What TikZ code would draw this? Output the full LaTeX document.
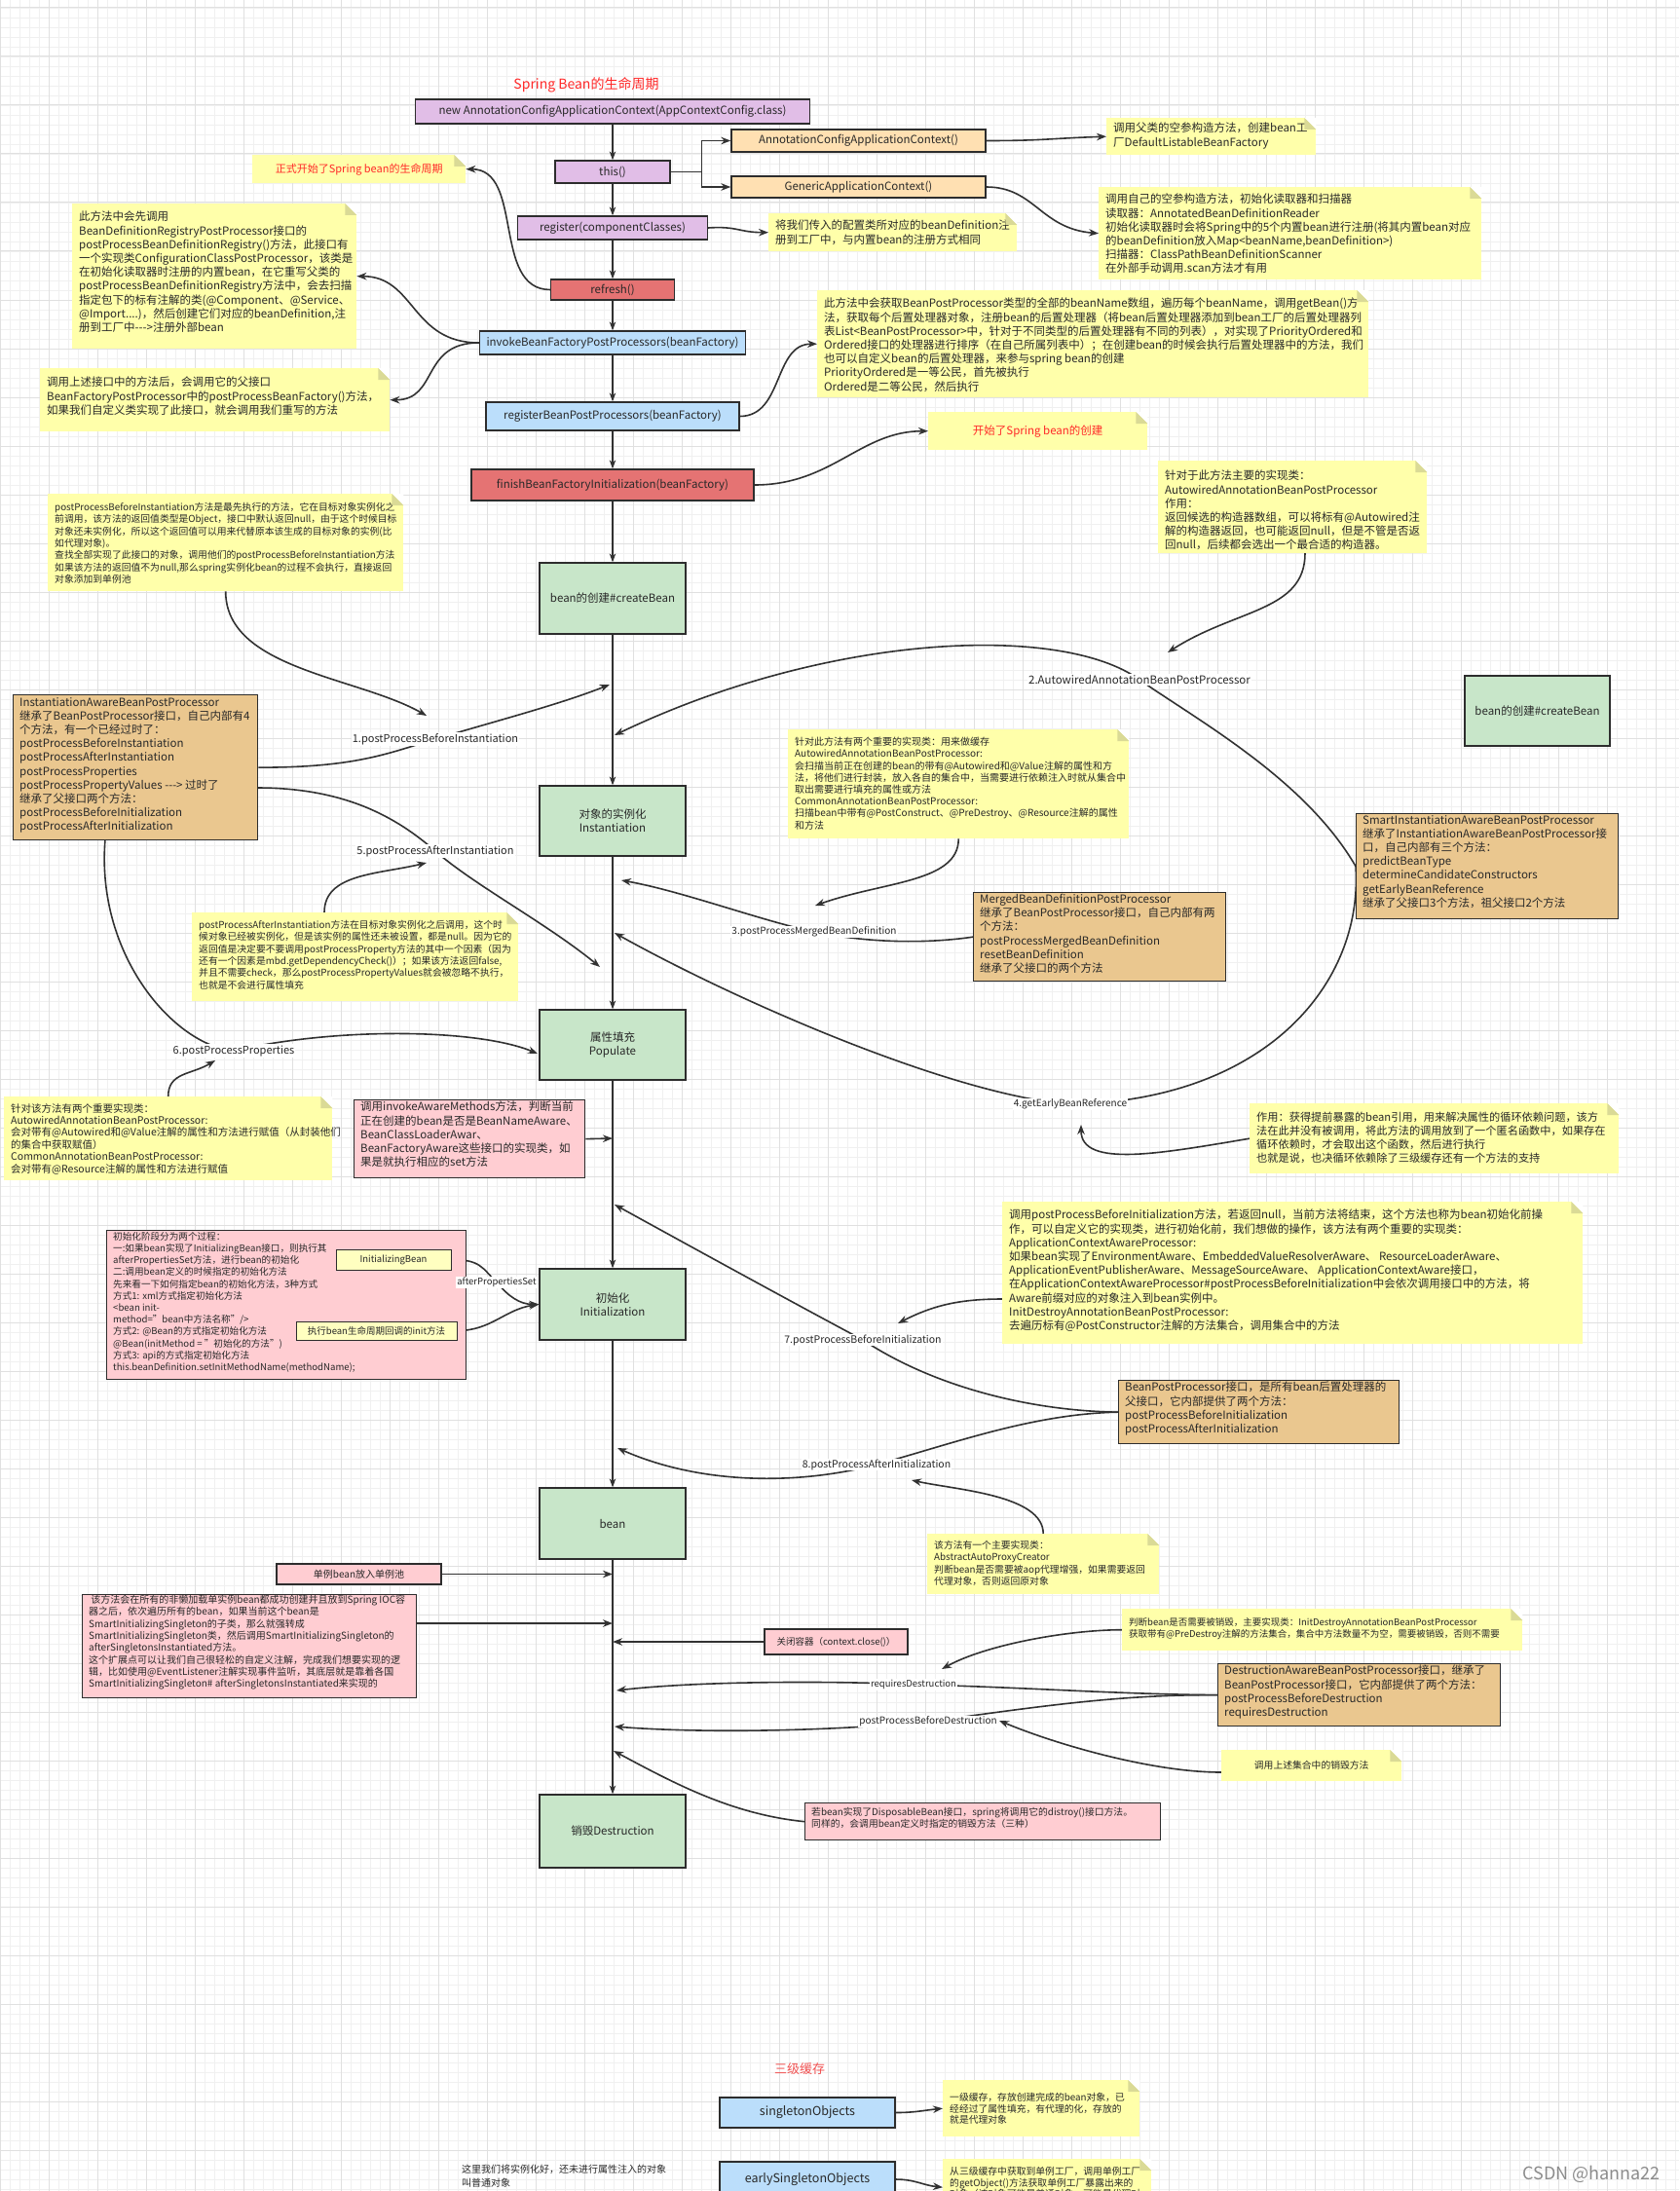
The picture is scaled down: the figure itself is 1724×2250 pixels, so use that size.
\documentclass[tikz,border=0pt]{standalone}
\usepackage{fontspec}
\setmainfont{Noto Sans CJK SC}
\usetikzlibrary{arrows.meta}
\pgfdeclarelayer{gridlayer}
\pgfdeclarelayer{linelayer}
\pgfsetlayers{gridlayer,linelayer,main}
\definecolor{txt}{RGB}{40,40,40}
\definecolor{bline}{RGB}{45,45,45}
\definecolor{cpurple}{RGB}{225,190,231}
\definecolor{cpeach}{RGB}{255,224,178}
\definecolor{cred}{RGB}{229,115,115}
\definecolor{cblue}{RGB}{187,222,251}
\definecolor{cgreen}{RGB}{200,230,201}
\definecolor{ctan}{RGB}{234,199,143}
\definecolor{cpink}{RGB}{255,205,210}
\definecolor{csy}{RGB}{255,255,192}
\definecolor{cnote}{RGB}{255,255,170}
\definecolor{cfold}{RGB}{218,218,150}
\definecolor{cgrid}{RGB}{240,240,240}
\definecolor{cgridm}{RGB}{224,224,224}
\definecolor{ctitle}{RGB}{255,40,40}
\definecolor{csanji}{RGB}{240,80,80}
\definecolor{cwm}{RGB}{140,140,140}
\definecolor{carrow}{RGB}{50,50,50}
\newcommand\mytbox[9]{%
  \node[#2, minimum width={#5-#3}, minimum height={#6-#4}, anchor=north west] (#1) at (#3,#4) {};
  \node[anchor=north west, inner sep=0pt, align=left, text=txt, #8] (#1t) at ({#3+7},{#4+#7}) {#9};}
\newcommand\myfold[1]{%
  \fill[white] (#1.north east) -- ++(-12,0) -- ++(12,12) -- cycle;
  \fill[cfold] (#1.north east) ++(-12,0) -- ++(0,12) -- ++(12,0) -- cycle;}
\tikzset{
  bx/.style={draw=bline, line width=1.3pt, inner sep=2pt, text=txt, align=center},
  bpurple/.style={bx, fill=cpurple},
  bpeach/.style={bx, fill=cpeach},
  bred/.style={bx, fill=cred},
  bblue/.style={bx, fill=cblue},
  bgreen/.style={bx, fill=cgreen},
  btan/.style={bx, fill=ctan},
  bpink/.style={bx, fill=cpink},
  bsy/.style={bx, fill=csy, line width=1pt},
  bnote/.style={fill=cnote, inner sep=0pt},
  fa/.style={font=\fontsize{11.5}{14.2}\selectfont},
  fb/.style={font=\fontsize{9.8}{12.3}\selectfont},
  fc/.style={font=\fontsize{10.5}{12.4}\selectfont},
  fd/.style={font=\fontsize{10}{12.2}\selectfont},
  marr/.style={draw=carrow, line width=1.1pt, -{Stealth[length=9pt,width=6.5pt]}},
  carr/.style={draw=carrow, line width=1.6pt, -{Stealth[length=10pt,width=7.5pt]}},
  lab/.style={fill=white, inner sep=1pt, text=txt},
}
\begin{document}
\begin{tikzpicture}[x=1pt,y=-1pt]
\useasboundingbox (0,0) rectangle (1724,2250);
\begin{pgfonlayer}{gridlayer}
\fill[white] (0,0) rectangle (1724,2250);
\foreach \gx in {0,10,...,1720} \draw[cgrid, line width=0.6pt] (\gx,0) -- (\gx,2250);
\foreach \gy in {8,18,...,2248} \draw[cgrid, line width=0.6pt] (0,\gy) -- (1724,\gy);
\foreach \gx in {0,50,...,1700} \draw[cgridm, line width=1pt] (\gx,0) -- (\gx,2250);
\foreach \gy in {8,58,...,2208} \draw[cgridm, line width=1pt] (0,\gy) -- (1724,\gy);
\end{pgfonlayer}

% ---------- title ----------
\node[font=\fontsize{14}{16}\selectfont, text=ctitle] (title) at (602,87) {Spring Bean的生命周期};

% ---------- main column ----------
\node[bpurple, fa, minimum width=405, minimum height=25] (newctx) at (629,114.5) {new AnnotationConfigApplicationContext(AppContextConfig.class)};
\node[bpurple, fa, minimum width=118, minimum height=23] (this) at (629,176.5) {this()};
\node[bpeach, fa, minimum width=261, minimum height=23] (acac) at (881.5,144.5) {AnnotationConfigApplicationContext()};
\node[bpeach, fa, minimum width=261, minimum height=22] (gac) at (881.5,192) {GenericApplicationContext()};
\node[bpurple, fa, minimum width=195, minimum height=24] (register) at (629,234) {register(componentClasses)};
\node[bred, fa, minimum width=127, minimum height=21] (refresh) at (629,297.5) {refresh()};
\node[bblue, fa, minimum width=273, minimum height=24] (invoke) at (629,352) {invokeBeanFactoryPostProcessors(beanFactory)};
\node[bblue, fa, minimum width=260, minimum height=29] (regbpp) at (629,427.5) {registerBeanPostProcessors(beanFactory)};
\node[bred, fa, minimum width=290, minimum height=32] (finish) at (629,498) {finishBeanFactoryInitialization(beanFactory)};
\node[bgreen, fa, minimum width=150, minimum height=73] (create) at (629,614.5) {bean的创建\#createBean};
\node[bgreen, fa, minimum width=150, minimum height=72] (inst) at (629,843) {对象的实例化\\Instantiation};
\node[bgreen, fa, minimum width=150, minimum height=72] (populate) at (629,1073) {属性填充\\Populate};
\node[bgreen, fa, minimum width=150, minimum height=73] (init) at (629,1339.5) {初始化\\Initialization};
\node[bgreen, fa, minimum width=150, minimum height=73] (bean) at (629,1564.5) {bean};
\node[bgreen, fa, minimum width=150, minimum height=75] (destroy) at (629,1880.5) {销毁Destruction};
\node[bgreen, fa, minimum width=149, minimum height=72] (create2) at (1578.5,730) {bean的创建\#createBean};

% ---------- notes top ----------
\node[bnote, minimum width=219, minimum height=29, anchor=north west, font=\fontsize{11}{13}\selectfont, text=ctitle] (n1) at (259,159) {正式开始了Spring bean的生命周期};
\myfold{n1}
\mytbox{n2}{bnote}{1136}{121}{1351}{159}{5}{fa}{调用父类的空参构造方法，创建bean工\\厂DefaultListableBeanFactory}
\myfold{n2}
\mytbox{n3}{bnote}{1128}{192}{1521}{287}{7}{fa}{调用自己的空参构造方法，初始化读取器和扫描器\\读取器：AnnotatedBeanDefinitionReader\\初始化读取器时会将Spring中的5个内置bean进行注册(将其内置bean对应\\的beanDefinition放入Map<beanName,beanDefinition>)\\扫描器：ClassPathBeanDefinitionScanner\\在外部手动调用.scan方法才有用}
\myfold{n3}
\mytbox{n4}{bnote}{789}{219}{1044}{258}{7}{fa}{将我们传入的配置类所对应的beanDefinition注\\册到工厂中，与内置bean的注册方式相同}
\myfold{n4}
\mytbox{n5}{bnote}{74}{209}{366}{358}{8}{fa}{此方法中会先调用\\BeanDefinitionRegistryPostProcessor接口的\\postProcessBeanDefinitionRegistry()方法，此接口有\\一个实现类ConfigurationClassPostProcessor，该类是\\在初始化读取器时注册的内置bean，在它重写父类的\\postProcessBeanDefinitionRegistry方法中，会去扫描\\指定包下的标有注解的类(@Component、@Service、\\@Import....)，然后创建它们对应的beanDefinition,注\\册到工厂中\mbox{-}\mbox{-}\mbox{-}>注册外部bean}
\myfold{n5}
\mytbox{n6}{bnote}{41}{378}{400}{443}{9}{fa}{调用上述接口中的方法后，会调用它的父接口\\BeanFactoryPostProcessor中的postProcessBeanFactory()方法，\\如果我们自定义类实现了此接口，就会调用我们重写的方法}
\myfold{n6}
\mytbox{n7}{bnote}{839}{298}{1405}{408}{8}{fa}{此方法中会获取BeanPostProcessor类型的全部的beanName数组，遍历每个beanName，调用getBean()方\\法，获取每个后置处理器对象，注册bean的后置处理器（将bean后置处理器添加到bean工厂的后置处理器列\\表List<BeanPostProcessor>中，针对于不同类型的后置处理器有不同的列表），对实现了PriorityOrdered和\\Ordered接口的处理器进行排序（在自己所属列表中）；在创建bean的时候会执行后置处理器中的方法，我们\\也可以自定义bean的后置处理器，来参与spring bean的创建\\PriorityOrdered是一等公民，首先被执行\\Ordered是二等公民，然后执行}
\myfold{n7}
\node[bnote, minimum width=225, minimum height=39, anchor=north west, font=\fontsize{11.5}{13}\selectfont, text=ctitle] (n8) at (953,423) {开始了Spring bean的创建};
\myfold{n8}

% ---------- notes middle ----------
\mytbox{n9}{bnote}{49}{507}{414}{607}{9}{fb}{postProcessBeforeInstantiation方法是最先执行的方法，它在目标对象实例化之\\前调用，该方法的返回值类型是Object，接口中默认返回null，由于这个时候目标\\对象还未实例化，所以这个返回值可以用来代替原本该生成的目标对象的实例(比\\如代理对象)。\\查找全部实现了此接口的对象，调用他们的postProcessBeforeInstantiation方法\\如果该方法的返回值不为null,那么spring实例化bean的过程不会执行，直接返回\\对象添加到单例池}
\myfold{n9}
\mytbox{n10}{bnote}{1189}{473}{1465}{568}{10}{fa}{针对于此方法主要的实现类：\\AutowiredAnnotationBeanPostProcessor\\作用：\\返回候选的构造器数组，可以将标有@Autowired注\\解的构造器返回，也可能返回null，但是不管是否返\\回null，后续都会选出一个最合适的构造器。}
\myfold{n10}
\mytbox{n11}{bnote}{809}{749}{1159}{861}{8}{fd}{针对此方法有两个重要的实现类：用来做缓存\\AutowiredAnnotationBeanPostProcessor:\\会扫描当前正在创建的bean的带有@Autowired和@Value注解的属性和方\\法，将他们进行封装，放入各自的集合中，当需要进行依赖注入时就从集合中\\取出需要进行填充的属性或方法\\CommonAnnotationBeanPostProcessor:\\扫描bean中带有@PostConstruct、@PreDestroy、@Resource注解的属性\\和方法}
\myfold{n11}
\mytbox{n12}{bnote}{197}{937}{532}{1028}{8}{fb}{postProcessAfterInstantiation方法在目标对象实例化之后调用，这个时\\候对象已经被实例化，但是该实例的属性还未被设置，都是null。因为它的\\返回值是决定要不要调用postProcessProperty方法的其中一个因素（因为\\还有一个因素是mbd.getDependencyCheck()）；如果该方法返回false,\\并且不需要check，那么postProcessPropertyValues就会被忽略不执行，\\也就是不会进行属性填充}
\myfold{n12}
\mytbox{n13}{bnote}{4}{1126}{341}{1212}{7}{fc}{针对该方法有两个重要实现类：\\AutowiredAnnotationBeanPostProcessor:\\会对带有@Autowired和@Value注解的属性和方法进行赋值（从封装他们\\的集合中获取赋值）\\CommonAnnotationBeanPostProcessor:\\会对带有@Resource注解的属性和方法进行赋值}
\myfold{n13}
\mytbox{n14}{bnote}{1283}{1133}{1662}{1205}{9}{font=\fontsize{11.2}{14}\selectfont}{作用：获得提前暴露的bean引用，用来解决属性的循环依赖问题，该方\\法在此并没有被调用，将此方法的调用放到了一个匿名函数中，如果存在\\循环依赖时，才会取出这个函数，然后进行执行\\也就是说，也决循环依赖除了三级缓存还有一个方法的支持}
\myfold{n14}
\mytbox{n15}{bnote}{1029}{1234}{1625}{1380}{8}{fa}{调用postProcessBeforeInitialization方法，若返回null，当前方法将结束，这个方法也称为bean初始化前操\\作，可以自定义它的实现类，进行初始化前，我们想做的操作，该方法有两个重要的实现类：\\ApplicationContextAwareProcessor:\\如果bean实现了EnvironmentAware、EmbeddedValueResolverAware、 ResourceLoaderAware、\\ApplicationEventPublisherAware、MessageSourceAware、 ApplicationContextAware接口，\\在ApplicationContextAwareProcessor\#postProcessBeforeInitialization中会依次调用接口中的方法，将\\Aware前缀对应的对象注入到bean实例中。\\InitDestroyAnnotationBeanPostProcessor:\\去遍历标有@PostConstructor注解的方法集合，调用集合中的方法}
\myfold{n15}
\mytbox{n16}{bnote}{952}{1575}{1190}{1637}{7}{fb}{该方法有一个主要实现类：\\AbstractAutoProxyCreator\\判断bean是否需要被aop代理增强，如果需要返回\\代理对象，否则返回原对象}
\myfold{n16}
\mytbox{n17}{bnote}{1152}{1652}{1563}{1695}{9}{font=\fontsize{9.5}{12.5}\selectfont}{判断bean是否需要被销毁，主要实现类：InitDestroyAnnotationBeanPostProcessor\\获取带有@PreDestroy注解的方法集合，集合中方法数量不为空，需要被销毁，否则不需要}
\myfold{n17}
\node[bnote, minimum width=185, minimum height=32, anchor=north west, font=\fontsize{9.8}{12}\selectfont, text=txt] (n18) at (1254,1797) {调用上述集合中的销毁方法};
\myfold{n18}

% ---------- orange / pink boxes ----------
\mytbox{iabpp}{btan}{13}{713}{264}{862}{3}{fa}{InstantiationAwareBeanPostProcessor\\继承了BeanPostProcessor接口，自己内部有4\\个方法，有一个已经过时了：\\postProcessBeforeInstantiation\\postProcessAfterInstantiation\\postProcessProperties\\postProcessPropertyValues \mbox{-}\mbox{-}\mbox{-}> 过时了\\继承了父接口两个方法：\\postProcessBeforeInitialization\\postProcessAfterInitialization}
\mytbox{smart}{btan}{1392}{835}{1661}{943}{2}{fa}{SmartInstantiationAwareBeanPostProcessor\\继承了InstantiationAwareBeanPostProcessor接\\口，自己内部有三个方法：\\predictBeanType\\determineCandidateConstructors\\getEarlyBeanReference\\继承了父接口3个方法，祖父接口2个方法}
\mytbox{merged}{btan}{999}{916}{1258}{1007}{2}{fa}{MergedBeanDefinitionPostProcessor\\继承了BeanPostProcessor接口，自己内部有两\\个方法：\\postProcessMergedBeanDefinition\\resetBeanDefinition\\继承了父接口的两个方法}
\mytbox{bpp}{btan}{1148}{1417}{1436}{1482}{2}{fa}{BeanPostProcessor接口，是所有bean后置处理器的\\父接口，它内部提供了两个方法：\\postProcessBeforeInitialization\\postProcessAfterInitialization}
\mytbox{dabpp}{btan}{1250}{1708}{1540}{1772}{2}{fa}{DestructionAwareBeanPostProcessor接口，继承了\\BeanPostProcessor接口，它内部提供了两个方法：\\postProcessBeforeDestruction\\requiresDestruction}
\mytbox{aware}{bpink}{363}{1129}{600}{1209}{2}{fa}{调用invokeAwareMethods方法，判断当前\\正在创建的bean是否是BeanNameAware、\\BeanClassLoaderAwar、\\BeanFactoryAware这些接口的实现类，如\\果是就执行相应的set方法}
\mytbox{initp}{bpink}{109}{1263}{478}{1416}{2}{font=\fontsize{9.6}{12.2}\selectfont}{初始化阶段分为两个过程：\\一:如果bean实现了InitializingBean接口，则执行其\\afterPropertiesSet方法，进行bean的初始化\\二:调用bean定义的时候指定的初始化方法\\先来看一下如何指定bean的初始化方法，3种方式\\方式1: xml方式指定初始化方法\\<bean init-\\method="bean中方法名称"/>\\方式2: @Bean的方式指定初始化方法\\@Bean(initMethod = "初始化的方法")\\方式3: api的方式指定初始化方法\\this.beanDefinition.setInitMethodName(methodName);}
\node[bsy, minimum width=118, minimum height=21, font=\fontsize{9.5}{11}\selectfont] (ibean) at (404,1293.5) {InitializingBean};
\node[bsy, minimum width=165, minimum height=19, font=\fontsize{9.5}{11}\selectfont] (initm) at (386.5,1366.5) {执行bean生命周期回调的init方法};
\node[bpink, minimum width=169, minimum height=21, font=\fontsize{10}{12}\selectfont] (single) at (368.5,1616.5) {单例bean放入单例池};
\mytbox{sinit}{bpink}{84}{1637}{427}{1743}{1}{font=\fontsize{10}{12.3}\selectfont}{~该方法会在所有的非懒加载单实例bean都成功创建并且放到Spring IOC容\\器之后，依次遍历所有的bean，如果当前这个bean是\\SmartInitializingSingleton的子类，那么就强转成\\SmartInitializingSingleton类，然后调用SmartInitializingSingleton的\\afterSingletonsInstantiated方法。\\这个扩展点可以让我们自己很轻松的自定义注解，完成我们想要实现的逻\\辑，比如使用@EventListener注解实现事件监听，其底层就是靠着各国\\SmartInitializingSingleton\# afterSingletonsInstantiated来实现的}
\node[bpink, minimum width=147, minimum height=26, font=\fontsize{9.5}{12}\selectfont] (close) at (858.5,1686) {关闭容器（context.close()）};
\mytbox{disp}{bpink}{826}{1851}{1191}{1889}{5}{fb}{若bean实现了DisposableBean接口，spring将调用它的distroy()接口方法。\\同样的，会调用bean定义时指定的销毁方法（三种）}

% ---------- labels on connectors ----------
\node[lab, font=\fontsize{11}{13}\selectfont] (l1) at (447,759) {1.postProcessBeforeInstantiation};
\node[lab, font=\fontsize{11}{13}\selectfont] (l5) at (447,874) {5.postProcessAfterInstantiation};
\node[lab, font=\fontsize{11.5}{13}\selectfont] (l2) at (1170,698) {2.AutowiredAnnotationBeanPostProcessor};
\node[lab, font=\fontsize{10}{12}\selectfont] (l3) at (836,957) {3.postProcessMergedBeanDefinition};
\node[lab, font=\fontsize{10}{12}\selectfont] (l4) at (1099,1134) {4.getEarlyBeanReference};
\node[lab, font=\fontsize{11}{13}\selectfont] (l6) at (240,1079) {6.postProcessProperties};
\node[lab, font=\fontsize{9.5}{11}\selectfont] (lafter) at (510,1317) {afterPropertiesSet};
\node[lab, font=\fontsize{10.5}{12}\selectfont] (l7) at (886,1376) {7.postProcessBeforeInitialization};
\node[lab, font=\fontsize{10.5}{12}\selectfont] (l8) at (900,1504) {8.postProcessAfterInitialization};
\node[lab, font=\fontsize{9.5}{11}\selectfont] (lreq) at (938,1730) {requiresDestruction};
\node[lab, font=\fontsize{10}{12}\selectfont] (lppbd) at (953,1768) {postProcessBeforeDestruction};

% ---------- bottom: three-level cache ----------
\node[font=\fontsize{13}{15}\selectfont, text=csanji] (sanji) at (821,2125) {三级缓存};
\node[bblue, minimum width=180, minimum height=31, font=\fontsize{12.5}{14}\selectfont] (sobj) at (829,2169.5) {singletonObjects};
\node[bblue, minimum width=180, minimum height=36, font=\fontsize{12.5}{14}\selectfont] (early) at (829,2238) {earlySingletonObjects};
\mytbox{n19}{bnote}{968}{2136}{1170}{2194}{13}{font=\fontsize{9.8}{11.7}\selectfont}{一级缓存，存放创建完成的bean对象，已\\经经过了属性填充，有代理的化，存放的\\就是代理对象}
\myfold{n19}
\mytbox{n20}{bnote}{968}{2217}{1182}{2275}{8}{font=\fontsize{9.8}{11.7}\selectfont}{从三级缓存中获取到单例工厂，调用单例工厂\\的getObject()方法获取单例工厂暴露出来的\\对象（该对象可能是普通对象，可能是代理对}
\myfold{n20}
\node[anchor=north west, inner sep=0pt, align=left, font=\fontsize{10}{14.3}\selectfont, text=txt] (ptext) at (474,2223) {这里我们将实例化好，还未进行属性注入的对象\\叫普通对象};
\node[font=\fontsize{18}{20}\selectfont, text=cwm] (wm) at (1634,2233) {CSDN @hanna22};

% ---------- free connector ends ----------
\coordinate (t1a) at (438,735);
\coordinate (t1) at (626,703);
\coordinate (iabA) at (264,809);
\coordinate (t5) at (616,993);
\coordinate (n12a) at (333,937);
\coordinate (t5b) at (438,886);
\coordinate (iabB) at (108,862);
\coordinate (t6) at (552,1082);
\coordinate (t6b) at (221,1089);
\coordinate (n10b) at (1340,568);
\coordinate (t2b) at (1199,670);
\coordinate (t2) at (631,755);
\coordinate (t4) at (631,958);
\coordinate (t4b) at (1110,1155);
\coordinate (t3b) at (837,930);
\coordinate (t3) at (638,904);
\coordinate (ta) at (629,1169);
\coordinate (sm1) at (388,1332);
\coordinate (sm2) at (421,1346);
\coordinate (n15a) at (1029,1334);
\coordinate (t7b) at (922,1359);
\coordinate (t7) at (631,1237);
\coordinate (t8) at (634,1487);
\coordinate (t8b) at (936,1520);
\coordinate (ts) at (629,1616.5);
\coordinate (siA) at (427,1667);
\coordinate (tsi) at (629,1667);
\coordinate (tc) at (629,1686);
\coordinate (tR2) at (967,1714);
\coordinate (tR) at (633,1736);
\coordinate (tP) at (631,1773);
\coordinate (n18a) at (1254,1820);
\coordinate (tP2) at (1026,1767);
\coordinate (t9) at (630,1798);

\begin{pgfonlayer}{linelayer}
% main flow
\draw[marr] (newctx.south) -- (this.north);
\draw[marr] (this.south) -- (register.north);
\draw[marr] (register.south) -- (refresh.north);
\draw[marr] (refresh.south) -- (invoke.north);
\draw[marr] (invoke.south) -- (regbpp.north);
\draw[marr] (regbpp.south) -- (finish.north);
\draw[marr] (finish.south) -- (create.north);
\draw[marr] (create.south) -- (inst.north);
\draw[marr] (inst.south) -- (populate.north);
\draw[marr] (populate.south) -- (init.north);
\draw[marr] (init.south) -- (bean.north);
\draw[marr] (bean.south) -- (destroy.north);
% top connectors
\draw[carr] (this.east) -- ++(32,0) |- (acac.west);
\draw[carr] (this.east) -- ++(32,0) |- (gac.west);
\draw[carr] (acac.east) .. controls +(60,0) and +(-60,2) .. (n2.west);
\draw[carr] (gac.east) .. controls +(50,0) and +(-60,-5) .. (n3.west);
\draw[carr] (register.east) .. controls +(30,-2) and +(-30,0) .. (n4.west);
\draw[carr] (refresh.west) .. controls +(-60,0) and +(60,0) .. (n1.east);
\draw[carr] (invoke.west) .. controls +(-70,0) and +(60,0) .. (n5.east);
\draw[carr] (invoke.west) .. controls +(-60,0) and +(50,0) .. (n6.east);
\draw[carr] (regbpp.east) .. controls +(45,0) and +(-45,0) .. (n7.west);
\draw[carr] (finish.east) .. controls +(80,0) and +(-70,0) .. (n8.west);
% instantiation
\draw[carr] (n9.south) .. controls +(0,80) and +(-70,-40) .. (t1a);
\draw[carr] (iabpp.east) .. controls +(100,0) and +(-50,15) .. (l1.center) .. controls +(60,-18) and +(-50,20) .. (t1);
\draw[carr] (iabA) .. controls +(90,0) and +(-40,-35) .. (l5.center) .. controls +(40,35) and +(-55,-45) .. (t5);
\draw[carr] (n12a) .. controls +(0,-40) and +(-50,12) .. (t5b);
\draw[carr] (iabB) .. controls +(-10,120) and +(-60,-5) .. (l6.center) .. controls +(110,-25) and +(-60,-25) .. (t6);
\draw[carr] (n13.north) .. controls +(0,-25) and +(-25,15) .. (t6b);
\draw[carr] (n10b) .. controls +(0,60) and +(70,-45) .. (t2b);
\draw[carr] (smart.west) .. controls (1340,800) and (1230,740) .. (l2.center) .. controls (1090,640) and (850,650) .. (t2);
\draw[carr] (smart.west) .. controls (1400,1010) and (1300,1130) .. (l4.center) .. controls (980,1125) and (760,1030) .. (t4);
\draw[carr] (n14.west) .. controls +(-90,15) and +(0,45) .. (t4b);
\draw[carr] (n11.south) .. controls +(0,45) and +(70,-25) .. (t3b);
\draw[carr] (merged.west) .. controls (960,968) and (900,970) .. (l3.center) .. controls (780,945) and (700,915) .. (t3);
% populate / init
\draw[carr] (aware.east) -- (ta);
\draw[carr] (ibean.east) .. controls +(30,0) and +(-15,-15) .. (lafter.center) .. controls +(12,14) and +(-20,0) .. (init.west);
\draw[carr] (initm.east) .. controls +(35,0) and +(-35,5) .. (init.west);
\draw[carr] (sm1) .. controls +(18,0) and +(-8,-8) .. (sm2);
\draw[carr] (n15a) .. controls +(-45,0) and +(35,-18) .. (t7b);
\draw[carr] (bpp.west) .. controls (1060,1449) and (960,1425) .. (l7.center) .. controls (800,1330) and (700,1275) .. (t7);
\draw[carr] (bpp.west) .. controls (1060,1452) and (980,1482) .. (l8.center) .. controls (820,1525) and (720,1525) .. (t8);
\draw[carr] (n16.north) .. controls +(0,-40) and +(45,10) .. (t8b);
% bean / destruction
\draw[carr] (single.east) -- (ts);
\draw[carr] (siA) -- (tsi);
\draw[carr] (close.west) -- (tc);
\draw[carr] (n17.west) .. controls +(-55,0) and +(45,-25) .. (tR2);
\draw[carr] (dabpp.west) .. controls (1150,1740) and (1040,1732) .. (lreq.center) .. controls (860,1726) and (720,1726) .. (tR);
\draw[carr] (dabpp.west) .. controls (1150,1740) and (1070,1752) .. (lppbd.center) .. controls (850,1778) and (720,1780) .. (tP);
\draw[carr] (n18a) .. controls +(-70,0) and +(60,25) .. (tP2);
\draw[carr] (disp.west) .. controls (750,1863) and (690,1830) .. (t9);
% cache
\draw[carr] (sobj.east) .. controls +(20,0) and +(-20,2) .. (n19.west);
\draw[carr] (early.east) .. controls +(20,0) and +(-20,-2) .. (n20.west);
\end{pgfonlayer}
\end{tikzpicture}
\end{document}
